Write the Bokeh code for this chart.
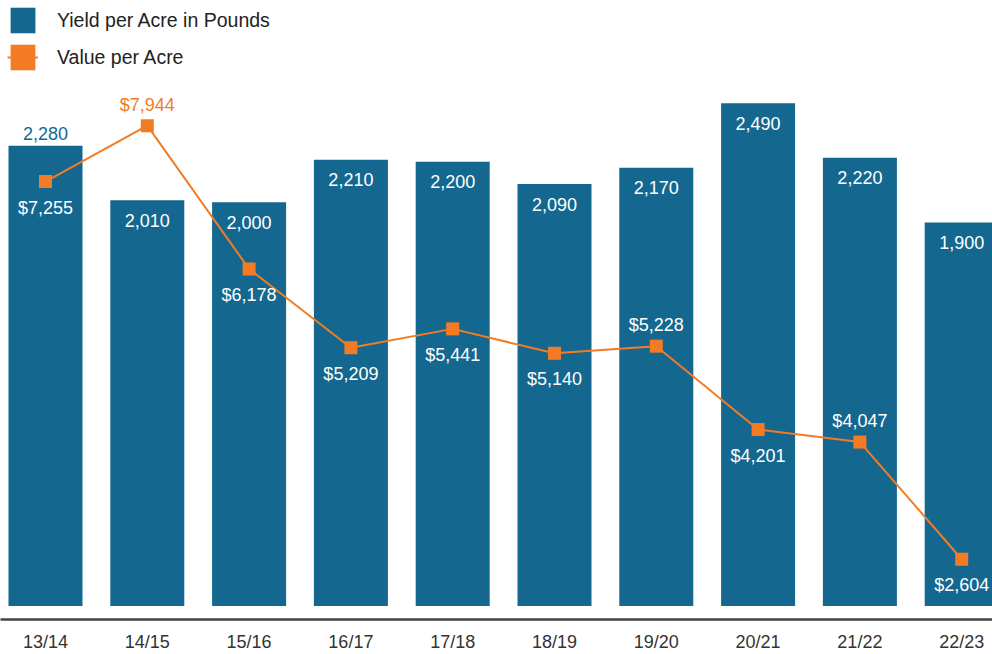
from bokeh.plotting import figure
from bokeh.models import ColumnDataSource, Range1d, FixedTicker, Legend, LegendItem
from bokeh.core.properties import value
from bokeh.embed import file_html
from bokeh.resources import INLINE

# ---- data ----
seasons = ["13/14", "14/15", "15/16", "16/17", "17/18", "18/19", "19/20", "20/21", "21/22", "22/23"]
yield_lbs = [2280, 2010, 2000, 2210, 2200, 2090, 2170, 2490, 2220, 1900]
value_usd = [7255, 7944, 6178, 5209, 5441, 5140, 5228, 4201, 4047, 2604]

# ---- label placement (style) ----
yield_label_place = ["above", "inside", "inside", "inside", "inside", "inside", "inside", "inside", "inside", "inside"]
value_label_place = ["below", "above", "below", "below", "below", "below", "above", "below", "above", "below"]

BLUE = "#14688f"
ORANGE = "#f47b25"
FONT = "Liberation Sans"

idx = list(range(len(seasons)))

bar_dy = [-12 if p == "above" else 20 for p in yield_label_place]
bar_col = [BLUE if p == "above" else "white" for p in yield_label_place]
bar_src = ColumnDataSource(dict(x=idx, top=yield_lbs,
                                label=[f"{v:,}" for v in yield_lbs],
                                dy=bar_dy, color=bar_col))

val_dy = [-21 if p == "above" else 26 for p in value_label_place]
val_col = []
for i, p_ in enumerate(value_label_place):
    # labels drawn over white background get the series colour
    val_col.append(ORANGE if (p_ == "above" and i == 1) else "white")
val_src = ColumnDataSource(dict(x=idx, y=value_usd,
                                label=[f"${v:,}" for v in value_usd],
                                dy=val_dy, color=val_col))

p = figure(frame_width=992, frame_height=619,
           x_range=Range1d(-0.442, 9.3026), y_range=Range1d(-66.9, 2999.0),
           output_backend="svg", toolbar_location=None, y_axis_location=None,
           min_border=0, outline_line_color=None)
p.extra_y_ranges = {"val": Range1d(1862, 9485)}

p.vbar(x="x", top="top", bottom=0, width=0.727, fill_color=BLUE, line_color=None, source=bar_src)
p.text(x="x", y="top", text="label", y_offset="dy", text_color="color",
       text_align="center", text_baseline="middle",
       text_font=value(FONT), text_font_size="18px", source=bar_src)

p.line(x="x", y="y", line_color=ORANGE, line_width=2, y_range_name="val", source=val_src)
p.scatter(x="x", y="y", marker="square", size=13, fill_color=ORANGE, line_color=None,
          y_range_name="val", source=val_src)
p.text(x="x", y="y", text="label", y_offset="dy", text_color="color",
       text_align="center", text_baseline="middle",
       text_font=value(FONT), text_font_size="18px", y_range_name="val", source=val_src)

# legend proxies (NaN data: nothing drawn in the plot, only in the legend)
nan = float("nan")
proxy = ColumnDataSource(dict(x=[nan], y=[nan]))
leg_bar = p.rect(x="x", y="y", width=1, height=1, fill_color=BLUE, line_color=None, source=proxy)
leg_line = p.line(x="x", y="y", line_color=ORANGE, line_width=2, source=proxy)
leg_sq = p.rect(x="x", y="y", width=1, height=1, fill_color=ORANGE, line_color=None, source=proxy)

legend = Legend(items=[LegendItem(label="Yield per Acre in Pounds", renderers=[leg_bar]),
                       LegendItem(label="Value per Acre", renderers=[leg_line, leg_sq])],
                location=(7, 546), glyph_width=31, glyph_height=32, label_standoff=19,
                spacing=5, padding=0, margin=0, border_line_alpha=0, background_fill_alpha=0,
                label_text_font=FONT, label_text_font_size="19.5px", label_text_color="#222222")
p.add_layout(legend)

p.xaxis.ticker = FixedTicker(ticks=idx)
p.xaxis.major_label_overrides = {i: s for i, s in zip(idx, seasons)}
p.xaxis.major_tick_line_color = None
p.xaxis.minor_tick_line_color = None
p.xaxis.major_tick_out = 0
p.xaxis.axis_line_color = "#444444"
p.xaxis.axis_line_width = 2.5
p.xaxis.major_label_standoff = 12
p.xaxis.major_label_text_font = FONT
p.xaxis.major_label_text_font_size = "18px"
p.xaxis.major_label_text_color = "#333333"
p.xgrid.visible = False
p.ygrid.visible = False

open("out.html", "w").write(file_html(p, INLINE))
